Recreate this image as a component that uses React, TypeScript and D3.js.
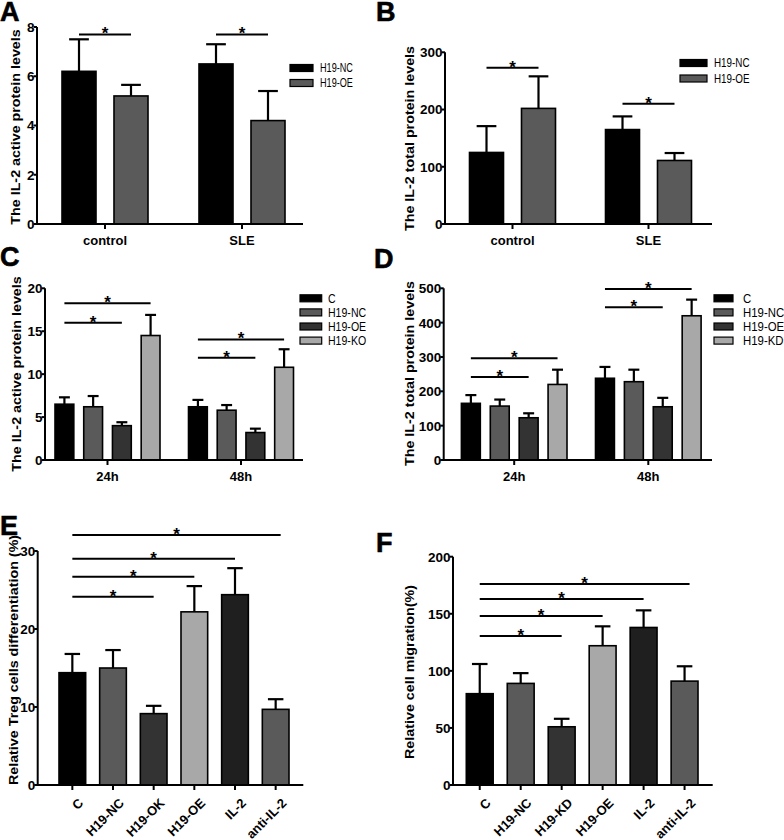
import React from 'react';
import * as d3 from 'd3';

// ---------- DATA ----------
const groupsAB = ['control', 'SLE'];
const seriesAB = ['H19-NC', 'H19-OE'];
const activeA = [[6.2, 5.2], [6.5, 4.2]];
const activeAErr = [[1.3, 0.45], [0.8, 1.2]];
const totalB = [[125, 202], [165, 111]];
const totalBErr = [[46, 56], [23, 13]];

const groupsCD = ['24h', '48h'];
const seriesC = ['C', 'H19-NC', 'H19-OE', 'H19-KO'];
const seriesD = ['C', 'H19-NC', 'H19-OE', 'H19-KD'];
const activeC = [[6.5, 6.2, 4.0, 14.5], [6.2, 5.8, 3.2, 10.8]];
const activeCErr = [[0.8, 1.25, 0.4, 2.4], [0.8, 0.6, 0.45, 2.1]];
const totalD = [[165, 157, 123, 220], [238, 228, 155, 420]];
const totalDErr = [[24, 19, 13, 43], [33, 35, 26, 47]];

const catE = ['C', 'H19-NC', 'H19-OK', 'H19-OE', 'IL-2', 'anti-IL-2'];
const tregE = [14.4, 15.0, 9.15, 22.2, 24.4, 9.7];
const tregEErr = [2.4, 2.3, 1.0, 3.3, 3.4, 1.3];
const catF = ['C', 'H19-NC', 'H19-KD', 'H19-OE', 'IL-2', 'anti-IL-2'];
const migF = [80, 89, 51, 122, 138, 91];
const migFErr = [26, 9, 7, 17, 15, 13];

// significance brackets: group, from series, to series, height (data units)
const sigA = [{ g: 0, a: 0, b: 1, y: 7.7 }, { g: 1, a: 0, b: 1, y: 7.7 }];
const sigB = [{ g: 0, a: 0, b: 1, y: 273 }, { g: 1, a: 0, b: 1, y: 210 }];
const sigC = [
  { g: 0, a: 0, b: 3, y: 18.25 }, { g: 0, a: 0, b: 2, y: 16.0 },
  { g: 1, a: 0, b: 3, y: 14.05 }, { g: 1, a: 0, b: 2, y: 11.9 },
];
const sigD = [
  { g: 0, a: 0, b: 3, y: 296 }, { g: 0, a: 0, b: 2, y: 242 },
  { g: 1, a: 0, b: 3, y: 498 }, { g: 1, a: 0, b: 2, y: 445 },
];
const sigE = [{ a: 0, b: 5, y: 32.05 }, { a: 0, b: 4, y: 29 }, { a: 0, b: 3, y: 26.7 }, { a: 0, b: 2, y: 24.15 }];
const sigF = [{ a: 0, b: 5, y: 176 }, { a: 0, b: 4, y: 163 }, { a: 0, b: 3, y: 148 }, { a: 0, b: 2, y: 130.5 }];

// ---------- STYLE ----------
const FONT = "'Liberation Sans', Arial, Helvetica, sans-serif";
const colorsAB = ['#000000', '#5a5a5a'];
const colorsCD = ['#000000', '#5a5a5a', '#333333', '#a8a8a8'];
const colorsEF = ['#000000', '#5a5a5a', '#333333', '#a8a8a8', '#1f1f1f', '#5a5a5a'];

type Bar = { cx: number; bw: number; v: number; e: number; color: string };

function YAxis({ L, y }: any) {
  const ticks = d3.range(0, L.max + L.step / 2, L.step);
  return (
    <g>
      <text transform={`translate(${L.title[0]},${L.title[1]}) rotate(-90) scale(1,0.85)`} textAnchor="middle" dominantBaseline="central"
        fontSize={14.3} fontWeight="bold" fontFamily={FONT}>{L.titleText}</text>
      <line x1={L.axisX} x2={L.axisX} y1={y(0) + 1} y2={y(L.max)} stroke="#000" strokeWidth={2} />
      {ticks.map((t: number) => (
        <g key={t}>
          <line x1={L.axisX - 3.5} x2={L.axisX} y1={y(t)} y2={y(t)} stroke="#000" strokeWidth={2} />
          <text x={L.axisX - 2.5} y={y(t)} dy="0.36em" textAnchor="end" fontSize={13.5} fontWeight="bold" fontFamily={FONT}>{t}</text>
        </g>
      ))}
      <text x={L.letter[0]} y={L.letter[1]} fontSize={27} fontWeight="bold" fontFamily={FONT} stroke="#000" strokeWidth={0.6}>{L.letterText}</text>
    </g>
  );
}

function Bars({ bars, y }: { bars: Bar[]; y: any }) {
  return (
    <g>
      {bars.map((b, i) => {
        const top = y(b.v);
        const et = y(b.v + b.e);
        const cw = b.bw * 0.58;
        return (
          <g key={i}>
            <line x1={b.cx} x2={b.cx} y1={top} y2={et} stroke="#000" strokeWidth={2.2} />
            <line x1={b.cx - cw / 2} x2={b.cx + cw / 2} y1={et} y2={et} stroke="#000" strokeWidth={2.2} />
            <rect x={b.cx - b.bw / 2} y={top} width={b.bw} height={y(0) - top} fill={b.color} stroke="#000" strokeWidth={1.6} />
          </g>
        );
      })}
    </g>
  );
}

function Sig({ x1, x2, yy }: { x1: number; x2: number; yy: number }) {
  return (
    <g>
      <line x1={x1} x2={x2} y1={yy} y2={yy} stroke="#000" strokeWidth={2} />
      <text x={(x1 + x2) / 2} y={yy + 5} textAnchor="middle" fontSize={17} fontWeight="bold" fontFamily={FONT}>*</text>
    </g>
  );
}

function Legend({ L, series, colors }: any) {
  return (
    <g>
      {series.map((s: string, i: number) => {
        const cy = L.legend.y + i * L.legend.dy;
        return (
          <g key={s}>
            <rect x={L.legend.x} y={cy - 3.5} width={L.legend.w} height={7} fill={colors[i]} stroke="#000" strokeWidth={1.2} />
            <text transform={`translate(${L.legend.tx},${cy}) scale(${L.legend.sx},1)`} dy="0.36em" fontSize={12} fontFamily={FONT}>{s}</text>
          </g>
        );
      })}
    </g>
  );
}

function GroupedPanel({ L, groups, series, values, errors, colors, sig }: any) {
  const y = d3.scaleLinear().domain([0, L.max]).range([L.y0, L.yTop]);
  const gx = d3.scalePoint<string>().domain(groups).range(L.groupRange);
  const ix = d3.scaleBand<string>().domain(series).range([-L.half, L.half]).paddingInner(L.pad).paddingOuter(0);
  const bw = ix.bandwidth();
  const cx = (g: number, s: number) => (gx(groups[g]) as number) + (ix(series[s]) as number) + bw / 2;
  const bars: Bar[] = [];
  groups.forEach((_: string, g: number) => series.forEach((__: string, s: number) => {
    bars.push({ cx: cx(g, s), bw, v: values[g][s], e: errors[g][s], color: colors[s] });
  }));
  return (
    <g>
      <Bars bars={bars} y={y} />
      <YAxis L={L} y={y} />
      <line x1={L.axisX} x2={L.xEnd} y1={L.y0} y2={L.y0} stroke="#000" strokeWidth={2} />
      {groups.map((g: string) => (
        <g key={g}>
          <line x1={gx(g)} x2={gx(g)} y1={L.y0} y2={L.y0 + 5} stroke="#000" strokeWidth={2} />
          <text x={gx(g)} y={L.y0 + 21} textAnchor="middle" fontSize={13} fontWeight="bold" fontFamily={FONT}>{g}</text>
        </g>
      ))}
      {sig.map((s: any, i: number) => <Sig key={i} x1={cx(s.g, s.a)} x2={cx(s.g, s.b)} yy={y(s.y)} />)}
      <Legend L={L} series={series} colors={colors} />
    </g>
  );
}

function FlatPanel({ L, cats, values, errors, colors, sig }: any) {
  const y = d3.scaleLinear().domain([0, L.max]).range([L.y0, L.yTop]);
  const x = d3.scaleBand<string>().domain(cats).range(L.barRange).paddingInner(L.pad).paddingOuter(0);
  const bw = x.bandwidth();
  const cx = (i: number) => (x(cats[i]) as number) + bw / 2;
  const bars: Bar[] = cats.map((_: string, i: number) => ({ cx: cx(i), bw, v: values[i], e: errors[i], color: colors[i] }));
  return (
    <g>
      <Bars bars={bars} y={y} />
      <YAxis L={L} y={y} />
      <line x1={L.axisX} x2={L.xEnd} y1={L.y0} y2={L.y0} stroke="#000" strokeWidth={2} />
      {cats.map((c: string, i: number) => (
        <g key={c}>
          <line x1={cx(i)} x2={cx(i)} y1={L.y0} y2={L.y0 + 5} stroke="#000" strokeWidth={2} />
          <text transform={`translate(${cx(i) + 5},${L.y0 + 12}) rotate(-45)`} textAnchor="end" dominantBaseline="hanging"
            fontSize={13} fontWeight="bold" fontFamily={FONT}>{c}</text>
        </g>
      ))}
      {sig.map((s: any, i: number) => <Sig key={i} x1={cx(s.a)} x2={cx(s.b) + (i === 0 ? 5 : 0)} yy={y(s.y)} />)}
    </g>
  );
}

// ---------- LAYOUT ----------
const layoutA = { axisX: 37, xEnd: 303, y0: 224, yTop: 27, max: 8, step: 2, groupRange: [105, 242], half: 43, pad: 0.346,
  legend: { x: 290, w: 23, y: 68, dy: 15, tx: 320, sx: 0.76 }, title: [16, 127], titleText: 'The IL-2 active protein levels', letter: [0, 21], letterText: 'A' };
const layoutB = { axisX: 445, xEnd: 712, y0: 224, yTop: 52.3, max: 300, step: 100, groupRange: [512.5, 648.5], half: 43, pad: 0.346,
  legend: { x: 680, w: 27, y: 63, dy: 15.5, tx: 714, sx: 0.82 }, title: [409.5, 138.5], titleText: 'The IL-2 total protein levels', letter: [376, 21], letterText: 'B' };
const layoutC = { axisX: 45, xEnd: 303, y0: 460, yTop: 288.3, max: 20, step: 5, groupRange: [107.5, 241], half: 52.5, pad: 0.345,
  legend: { x: 300, w: 21.7, y: 298.3, dy: 14.1, tx: 328, sx: 0.88 }, title: [16.5, 374], titleText: 'The IL-2 active protein levels', letter: [0, 266], letterText: 'C' };
const layoutD = { axisX: 443.7, xEnd: 712, y0: 460, yTop: 288.3, max: 500, step: 100, groupRange: [514.2, 648.3], half: 52.8, pad: 0.345,
  legend: { x: 714, w: 19, y: 298.3, dy: 14.1, tx: 743, sx: 0.95 }, title: [409.5, 373.5], titleText: 'The IL-2 total protein levels', letter: [374, 268], letterText: 'D' };
const layoutE = { axisX: 37.7, xEnd: 303.3, y0: 785, yTop: 551, max: 30, step: 10, barRange: [59, 289], pad: 0.344,
  title: [14, 660], titleText: 'Relative Treg cells differentiation (%)', letter: [0, 535], letterText: 'E' };
const layoutF = { axisX: 453, xEnd: 712.7, y0: 785, yTop: 556.7, max: 200, step: 50, barRange: [466.3, 698], pad: 0.344,
  title: [409.5, 672], titleText: 'Relative cell migration(%)', letter: [376, 552], letterText: 'F' };

export default function App() {
  return (
    <svg width={784} height={840} viewBox="0 0 784 840" style={{ position: 'absolute', left: 0, top: 0, background: '#fff' }}>
      <rect width={784} height={840} fill="#fff" />
      <GroupedPanel L={layoutA} groups={groupsAB} series={seriesAB} values={activeA} errors={activeAErr} colors={colorsAB} sig={sigA} />
      <GroupedPanel L={layoutB} groups={groupsAB} series={seriesAB} values={totalB} errors={totalBErr} colors={colorsAB} sig={sigB} />
      <GroupedPanel L={layoutC} groups={groupsCD} series={seriesC} values={activeC} errors={activeCErr} colors={colorsCD} sig={sigC} />
      <GroupedPanel L={layoutD} groups={groupsCD} series={seriesD} values={totalD} errors={totalDErr} colors={colorsCD} sig={sigD} />
      <FlatPanel L={layoutE} cats={catE} values={tregE} errors={tregEErr} colors={colorsEF} sig={sigE} />
      <FlatPanel L={layoutF} cats={catF} values={migF} errors={migFErr} colors={colorsEF} sig={sigF} />
    </svg>
  );
}
